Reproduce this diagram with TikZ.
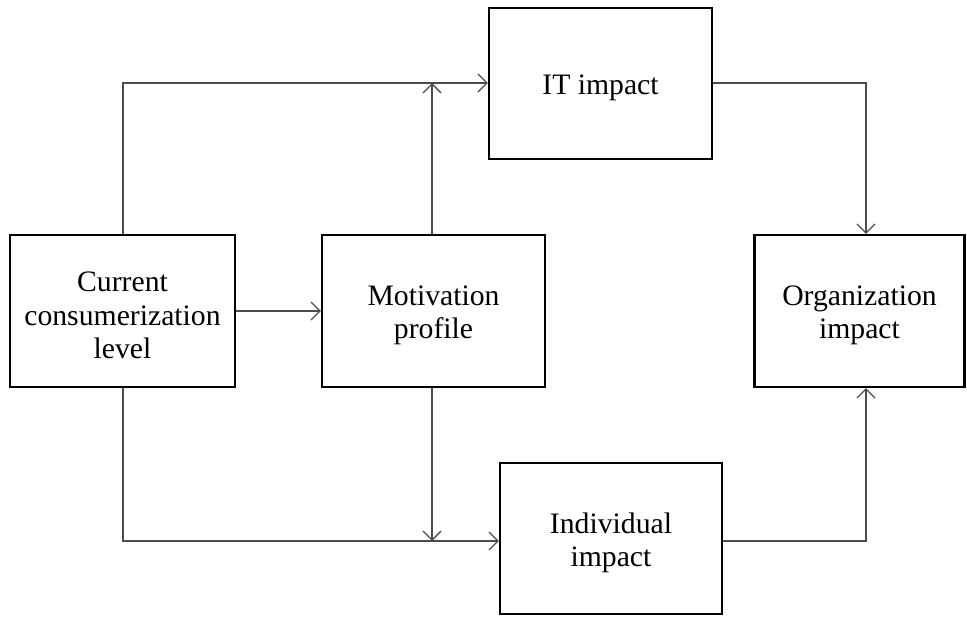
\documentclass[tikz,border=0pt]{standalone}
\usepackage{fontspec}
\setmainfont{Liberation Serif}
\usetikzlibrary{arrows.meta}
\begin{document}
\begin{tikzpicture}[x=1pt,y=-1pt,
  box/.style={draw=black,line width=2.2pt,inner sep=0pt},
  txt/.style={inner sep=0pt,align=center,font=\fontsize{29.7}{33.5}\selectfont},
  conn/.style={draw=black!70,line width=1.3pt,
    -{Straight Barb[length=9pt,width=18pt,line width=1.3pt]}}]
\useasboundingbox (0,0) rectangle (967,617);
\node[box,minimum width=225pt,minimum height=152pt] (cur) at (122.5,311) {};
\node[box,minimum width=223pt,minimum height=152pt] (mot) at (433.5,311) {};
\node[box,minimum width=223pt,minimum height=151pt] (it) at (600.5,83.5) {};
\node[box,minimum width=210pt,minimum height=152pt] (org) at (859.5,311) {};
\node[box,minimum width=222pt,minimum height=151pt] (ind) at (611,538.5) {};
\node[txt] (curt) at ([yshift=-4.5pt]cur.center) {Current\\consumerization\\level};
\node[txt] (mott) at ([yshift=-4.5pt]mot.center) {Motivation\\profile};
\node[txt] (itt) at ([yshift=-4.5pt]it.center) {IT impact};
\node[txt] (orgt) at ([yshift=-4.5pt]org.center) {Organization\\impact};
\node[txt] (indt) at ([yshift=-4.5pt]ind.center) {Individual\\impact};
\coordinate (topj) at (432,83);
\coordinate (botj) at (432,541);
\draw[conn] (cur.north -| 123,0) |- (it.west |- 0,83);
\draw[conn] (mot.north -| topj) -- (topj);
\draw[conn] (cur.east) -- (mot.west);
\draw[conn] (it.east |- 0,83) -| (org.north -| 866,0);
\draw[conn] (mot.south -| botj) -- (botj);
\draw[conn] (cur.south -| 123,0) |- (ind.west |- 0,541);
\draw[conn] (ind.east |- 0,541) -| (org.south -| 866,0);
\end{tikzpicture}
\end{document}
